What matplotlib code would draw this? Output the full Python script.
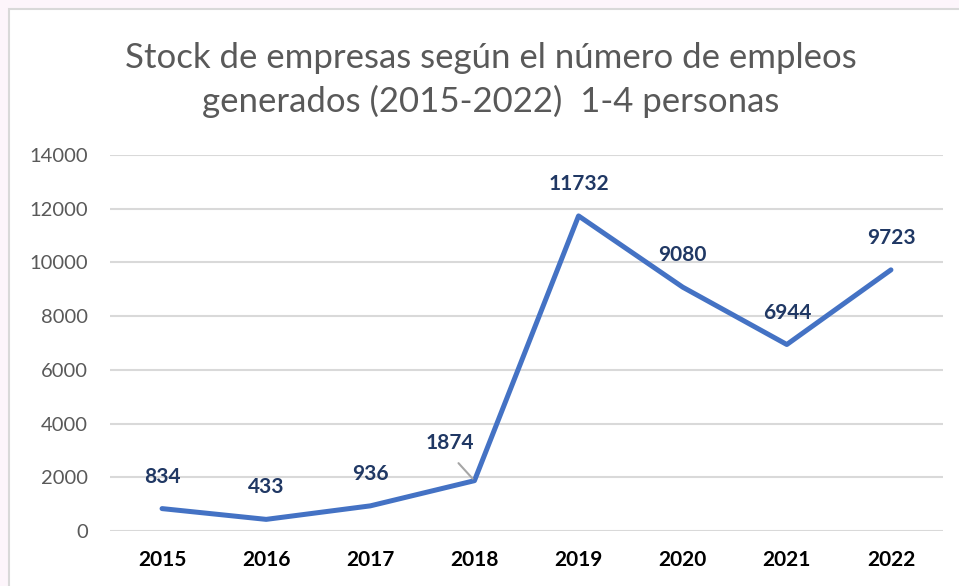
import matplotlib
matplotlib.use("Agg")
import matplotlib.pyplot as plt
from matplotlib.patches import Rectangle

years = ["2015", "2016", "2017", "2018", "2019", "2020", "2021", "2022"]
values = [834, 433, 936, 1874, 11732, 9080, 6944, 9723]
yticks = [0, 2000, 4000, 6000, 8000, 10000, 12000, 14000]
title_lines = ["Stock de empresas según el número de empleos",
               "generados (2015-2022)  1-4 personas"]

W, H = 959, 586
fig = plt.figure(figsize=(W / 100, H / 100), dpi=100)
fig.patch.set_facecolor("#fdf5fb")
fig.patches.append(Rectangle((9 / W, -0.01), 1, 1 - 9 / H + 0.01, transform=fig.transFigure,
                             facecolor="white", edgecolor="#d9d9d9", linewidth=1.5, zorder=-5))

font = ["Lato", "DejaVu Sans"]
ax = fig.add_axes([110 / W, 1 - 531 / H, (943 - 110) / W, (531 - 155) / H])
ax.set_facecolor("none")
x = list(range(len(years)))
ax.plot(x, values, color="#4472C4", linewidth=3.6, solid_capstyle="round", solid_joinstyle="round", zorder=3)
ax.set_xlim(-0.5, len(years) - 0.5)
ax.set_ylim(0, 14000)
ax.set_yticks(yticks)
ax.set_yticklabels([str(v) for v in yticks], fontsize=14.5, color="#595959", family=font)
ax.set_xticks(x)
ax.set_xticklabels(years, fontsize=15, fontweight="bold", color="#000000", family=font)
ax.tick_params(axis="both", length=0)
ax.tick_params(axis="y", pad=16)
ax.tick_params(axis="x", pad=14)
ax.grid(axis="y", color="#d9d9d9", linewidth=1.5)
ax.set_axisbelow(True)
for s in ax.spines.values():
    s.set_visible(False)

for i, v in enumerate(values):
    if years[i] == "2018":
        ax.annotate(str(v), xy=(i, v), xytext=(-18, 27), textcoords="offset points",
                    ha="center", va="center", fontsize=15, fontweight="bold", color="#203864",
                    family=font,
                    arrowprops=dict(arrowstyle="-", color="#a6a6a6", lw=1.5, relpos=(0.5, 0),
                                    shrinkA=7, shrinkB=2))
    else:
        ax.annotate(str(v), xy=(i, v), xytext=(0, 23), textcoords="offset points",
                    ha="center", va="center", fontsize=15, fontweight="bold", color="#203864",
                    family=font)

for k, (line, ypx) in enumerate(zip(title_lines, [58, 101])):
    fig.text(491 / W, 1 - ypx / H, line, ha="center", va="center", fontsize=25,
             color="#595959", family=font)

fig.savefig("out.png", dpi=100, facecolor=fig.get_facecolor())
